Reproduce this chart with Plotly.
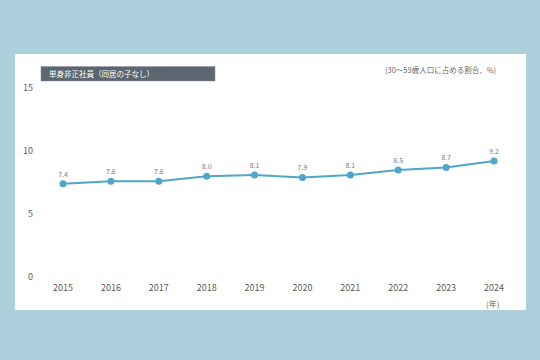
import plotly.graph_objects as go

years = [2015, 2016, 2017, 2018, 2019, 2020, 2021, 2022, 2023, 2024]
values = [7.4, 7.6, 7.6, 8.0, 8.1, 7.9, 8.1, 8.5, 8.7, 9.2]
value_labels = ["7.4", "7.6", "7.6", "8.0", "8.1", "7.9", "8.1", "8.5", "8.7", "9.2"]
y_ticks = [0, 5, 10, 15]
series_title = "単身非正社員（同居の子なし）"
unit_note = "(30～59歳人口に占める割合、%)"
x_unit = "(年)"

W, H = 540, 360
L, R, T, B = 40, 23, 88, 83
PW, PH = W - L - R, H - T - B

def px(x):
    return (x - L) / PW

def py(y):
    return (H - B - y) / PH

FONT = "Noto Sans CJK JP, Noto Sans, sans-serif"
LINE = "#4ea6c9"

fig = go.Figure()
fig.add_trace(go.Scatter(
    x=years, y=values, mode="lines+markers+text",
    text=value_labels, textposition="top center",
    textfont=dict(size=7, color="#7a7a7a", family=FONT),
    line=dict(color=LINE, width=2),
    marker=dict(color=LINE, size=7),
    cliponaxis=False, hoverinfo="skip", showlegend=False,
))

fig.update_layout(
    width=W, height=H,
    margin=dict(l=L, r=R, t=T, b=B),
    paper_bgcolor="#acd0dc",
    plot_bgcolor="rgba(0,0,0,0)",
    font=dict(family=FONT, color="#555555"),
    xaxis=dict(range=[2014.52, 2024.48], tickvals=years, ticktext=[str(y) for y in years],
               showgrid=False, zeroline=False, showline=False, ticks="",
               tickfont=dict(size=9, color="#5a5a5a"), ticklabelstandoff=4, fixedrange=True),
    yaxis=dict(range=[0, 15], tickvals=y_ticks, showgrid=False, zeroline=False, showline=False,
               ticks="", tickfont=dict(size=9, color="#5a5a5a"), ticklabelstandoff=6, fixedrange=True),
    shapes=[
        dict(type="rect", xref="paper", yref="paper", x0=px(15), x1=px(526), y0=py(310), y1=py(54),
             fillcolor="#ffffff", line=dict(width=0), layer="below"),
        dict(type="rect", xref="paper", yref="paper", x0=px(41), x1=px(215), y0=py(81), y1=py(66.5),
             fillcolor="#5b6670", line=dict(width=0.5, color="#8a939b"), layer="above"),
    ],
    annotations=[
        dict(text=series_title, xref="paper", yref="paper", x=px(47), y=py(73.5),
             xanchor="left", yanchor="middle", showarrow=False,
             font=dict(size=7.5, color="#ffffff", family=FONT)),
        dict(text=unit_note, xref="paper", yref="paper", x=px(498), y=py(69),
             xanchor="right", yanchor="middle", showarrow=False,
             font=dict(size=7.5, color="#666666", family=FONT)),
        dict(text=x_unit, xref="paper", yref="paper", x=px(492), y=py(303),
             xanchor="center", yanchor="middle", showarrow=False,
             font=dict(size=8, color="#666666", family=FONT)),
    ],
)

fig.write_html("out.html", config={"displayModeBar": False, "staticPlot": True},
               post_script="document.body.style.margin='0';document.body.style.overflow='hidden';")
